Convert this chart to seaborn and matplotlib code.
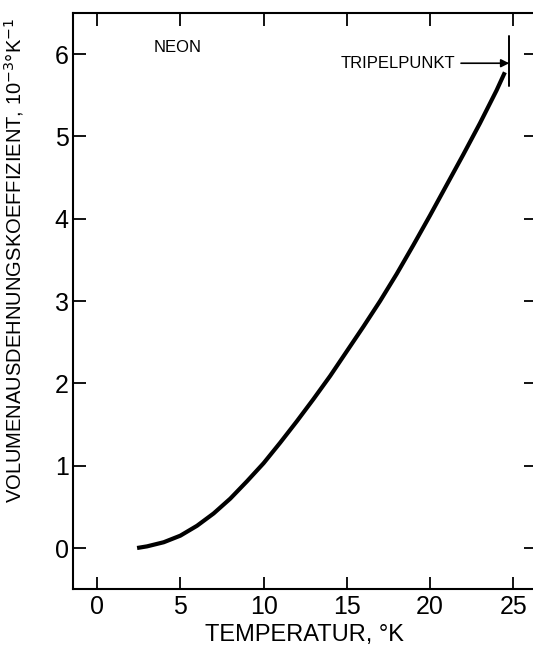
import matplotlib
matplotlib.use("Agg")
import matplotlib.pyplot as plt
import seaborn as sns
import pandas as pd

# Data
temperature = [2.4, 3, 4, 5, 6, 7, 8, 9, 10, 11, 12, 13, 14, 15, 16, 17, 18,
               19, 20, 21, 22, 23, 24, 24.5]
expansion = [0.00, 0.02, 0.07, 0.15, 0.27, 0.42, 0.60, 0.81, 1.03, 1.28, 1.54,
             1.81, 2.09, 2.39, 2.69, 3.00, 3.33, 3.68, 4.04, 4.41, 4.78, 5.16,
             5.56, 5.78]
triple_T = 24.76
triple_span = [5.61, 6.22]
arrow_y = 5.89
x_ticks = [0, 5, 10, 15, 20, 25]
y_ticks = [0, 1, 2, 3, 4, 5, 6]

sns.set_style("ticks")
plt.rcParams['font.family'] = ['Liberation Sans', 'DejaVu Sans']
plt.rcParams['text.color'] = 'black'
plt.rcParams['axes.labelcolor'] = 'black'
plt.rcParams['xtick.color'] = 'black'
plt.rcParams['ytick.color'] = 'black'

df = pd.DataFrame({"T": temperature, "alpha": expansion})

fig = plt.figure(figsize=(5.33, 6.51), dpi=100)
ax = fig.add_axes([0.137, 0.095, 0.868, 0.885])

sns.lineplot(data=df, x="T", y="alpha", ax=ax, color="black", lw=3.0,
             solid_joinstyle="round", solid_capstyle="butt")

ax.plot([triple_T, triple_T], triple_span, color="black", lw=1.4)
ax.annotate("TRIPELPUNKT", xy=(triple_T, arrow_y), xytext=(21.5, arrow_y),
            ha="right", va="center", fontsize=12, color="black",
            arrowprops=dict(arrowstyle="-|>", color="black", lw=1.2,
                            mutation_scale=12, shrinkA=2, shrinkB=0))
ax.text(3.4, 6.08, "NEON", ha="left", va="center", fontsize=12, color="black")

ax.set_xlim(-1.45, 26.35)
ax.set_ylim(-0.5, 6.5)
ax.set_xticks(x_ticks)
ax.set_yticks(y_ticks)
ax.tick_params(axis="both", direction="in", length=9, width=1.3, labelsize=18,
               top=True, right=True)
ax.tick_params(axis="y", pad=3)
ax.tick_params(axis="x", pad=4)
for s in ax.spines.values():
    s.set_linewidth(1.5)
    s.set_color("black")

ax.set_xlabel("TEMPERATUR, °K", fontsize=17, labelpad=4)
ax.set_ylabel(r"VOLUMENAUSDEHNUNGSKOEFFIZIENT, 10$^{-3}$°K$^{-1}$", fontsize=14.5)
ax.yaxis.set_label_coords(-0.102, 0.571)

fig.savefig("out.png", dpi=100)
